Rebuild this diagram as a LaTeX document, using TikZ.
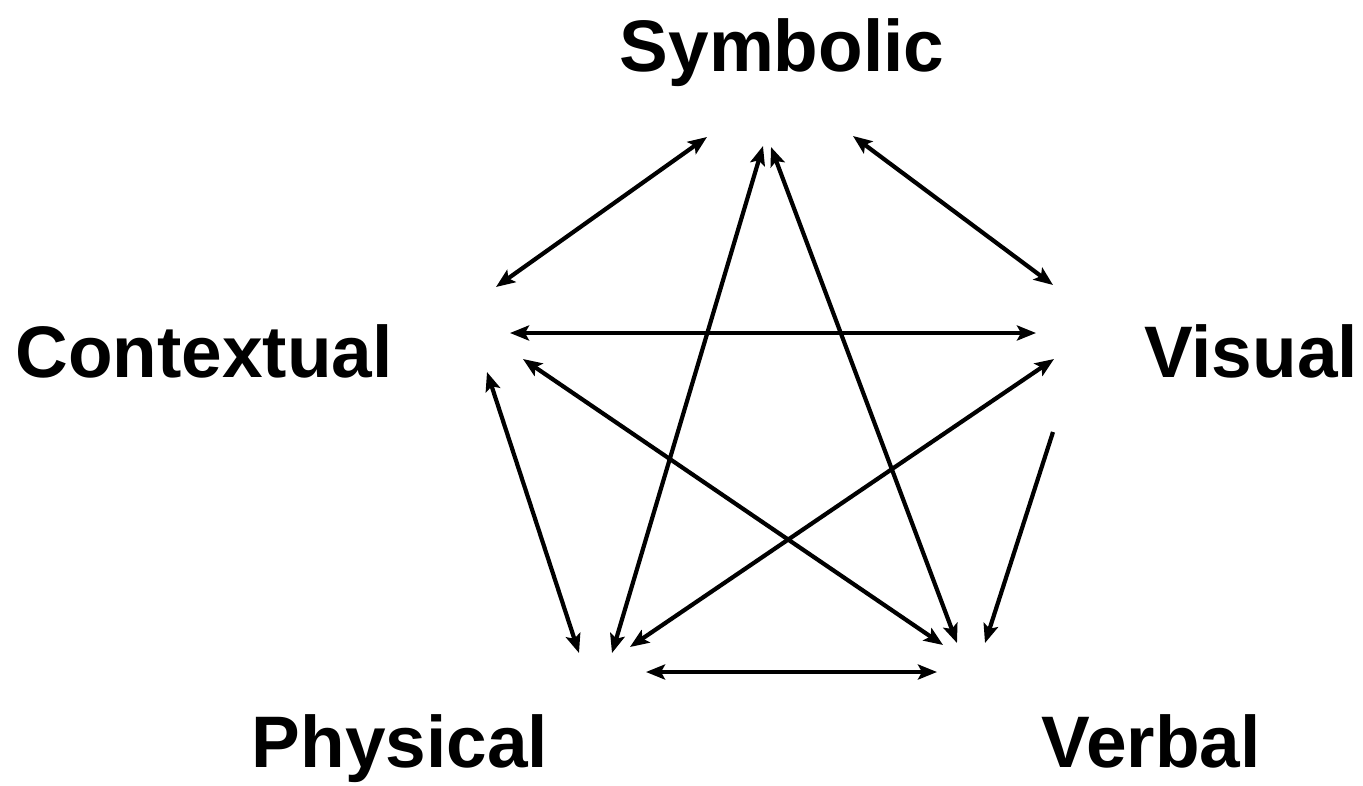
\documentclass[tikz,border=0pt]{standalone}
\usepackage{fontspec}
\setmainfont{Liberation Sans}
\usepackage{tikz}
\usetikzlibrary{arrows.meta}
\tikzset{
  link/.style={{Stealth[length=19pt,width=15pt,inset=4pt]}-{Stealth[length=19pt,width=15pt,inset=4pt]}, line width=4.2pt, black},
  oneway/.style={-{Stealth[length=19pt,width=15pt,inset=4pt]}, line width=4.2pt, black},
  lbl/.style={anchor=base, inner sep=0pt, font=\fontsize{73}{78}\selectfont\bfseries},
}

\begin{document}
\begin{tikzpicture}[x=1pt,y=-1pt]
  \useasboundingbox (0,0) rectangle (1363,785);
  \node[lbl] (sym) at (782,71)   {Symbolic};
  \node[lbl] (con) at (204,377)  {Contextual};
  \node[lbl] (vis) at (1251,377) {Visual};
  \node[lbl] (phy) at (400,767)  {Physical};
  \node[lbl] (ver) at (1151,767) {Verbal};
  % arrow ends round the pentagon
  \coordinate (sym-con) at (707,137);
  \coordinate (sym-vis) at (853,136);
  \coordinate (sym-phy) at (763,146);
  \coordinate (sym-ver) at (771,147);
  \coordinate (con-sym) at (496,287);
  \coordinate (con-vis) at (510,333);
  \coordinate (con-phy) at (487,372);
  \coordinate (con-ver) at (523,359);
  \coordinate (vis-sym) at (1053,285);
  \coordinate (vis-con) at (1036,333);
  \coordinate (vis-phy) at (1054,359);
  \coordinate (vis-ver) at (1053,432);
  \coordinate (phy-sym) at (612,653);
  \coordinate (phy-con) at (579,653);
  \coordinate (phy-vis) at (630,647);
  \coordinate (phy-ver) at (646,672);
  \coordinate (ver-sym) at (957,643);
  \coordinate (ver-con) at (943,645);
  \coordinate (ver-vis) at (985,643);
  \coordinate (ver-phy) at (937,672);
  \foreach \a/\b in {sym/con, sym/vis, con/vis, sym/phy, sym/ver, con/phy, con/ver, vis/phy, phy/ver} {
    \draw[link] (\a-\b) -- (\b-\a);
  }
  \draw[oneway] (vis-ver) -- (ver-vis);
\end{tikzpicture}
\end{document}
